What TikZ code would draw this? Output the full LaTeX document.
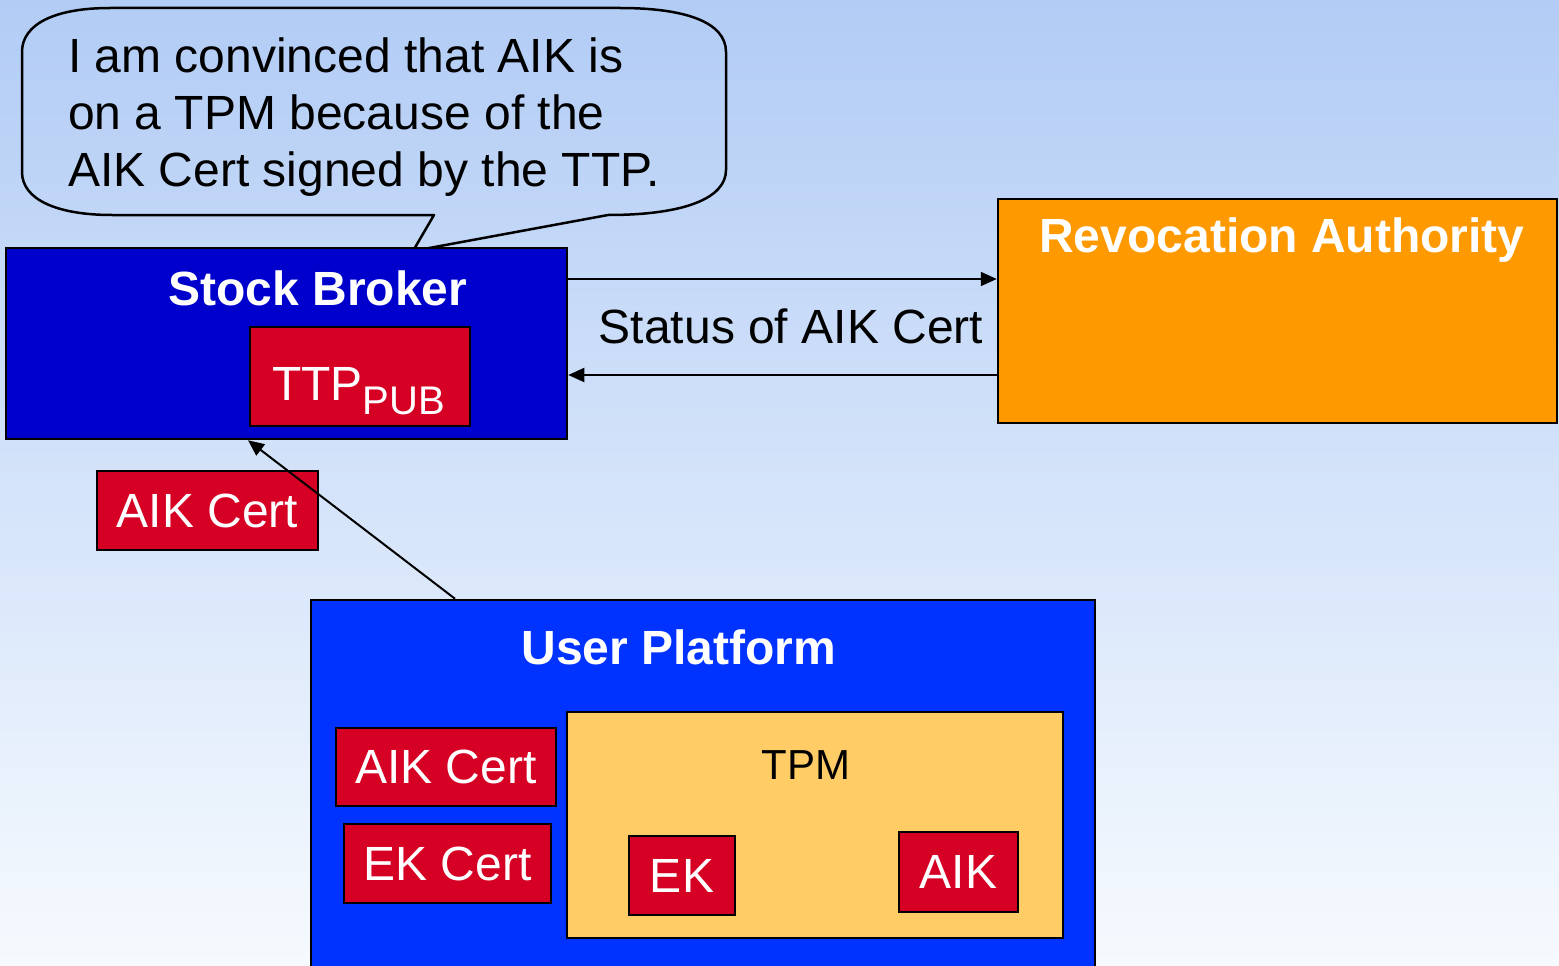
\documentclass[tikz,border=0pt]{standalone}
\usepackage{fontspec}
\setmainfont{Liberation Sans}
\usetikzlibrary{arrows.meta}

\definecolor{brokerblue}{HTML}{0000CC}
\definecolor{userblue}{HTML}{0033FF}
\definecolor{revorange}{HTML}{FF9900}
\definecolor{keyred}{HTML}{D60024}
\definecolor{tpmyellow}{HTML}{FFCC66}
\definecolor{skytop}{RGB}{178,204,245}
\definecolor{skymid}{RGB}{210,226,250}
\definecolor{skybot}{RGB}{246,250,254}

\newcommand{\bigtext}{\fontsize{48}{57}\selectfont}

\tikzset{
  party/.style={draw=black, line width=2.5pt, inner sep=0pt},
  keybox/.style={party, fill=keyred, text=white, font=\bigtext},
  title/.style={text=white, font=\bigtext\bfseries, inner sep=0pt},
  msg/.style={line width=2pt, -{Triangle[length=16pt,width=14pt]}},
}

\begin{document}
\begin{tikzpicture}[x=1pt, y=-1pt]
  \clip (0,0) rectangle (1559,966);
  \fill[top color=skytop, middle color=skymid, bottom color=skybot] (0,0) rectangle (1559,966);

  % speech bubble
  \draw[line width=2.5pt, line join=round]
    (434,215) -- (413,251) -- (608,215)
    .. controls (685,215) and (726,198) .. (726,170) -- (726,52)
    .. controls (726,22) and (685,8) .. (620,8) -- (110,8)
    .. controls (55,8) and (22,24) .. (22,52) -- (22,172)
    .. controls (22,200) and (58,215) .. (112,215) -- cycle;
  \node[font=\bigtext, align=left, anchor=north west, inner sep=0pt] (thought) at (68,38)
    {I am convinced that AIK is\\on a TPM because of the\\AIK Cert signed by the TTP.};

  % stock broker
  \node[party, fill=brokerblue, minimum width=561pt, minimum height=191pt] (broker) at (286.5,343.5) {};
  \node[title, anchor=base] (brokertitle) at (318,305) {Stock Broker};
  \node[keybox, minimum width=220pt, minimum height=99pt] (ttp) at (360,376.5) {};
  \node[text=white, font=\bigtext, anchor=base west, inner sep=0pt] (ttplabel) at (272,400)
    {TTP\raisebox{-14pt}{\fontsize{40}{40}\selectfont PUB}};

  % revocation authority
  \node[party, fill=revorange, minimum width=559pt, minimum height=224pt] (revoc) at (1277.5,311) {};
  \node[title, anchor=base] (revoctitle) at (1282,252) {Revocation Authority};

  \coordinate (query) at ([yshift=64.5pt]broker.east);
  \coordinate (reply) at ([yshift=-31.5pt]broker.east);
  \draw[msg] (query) -- (query -| revoc.west);
  \draw[msg] (reply -| revoc.west) -- (reply);
  \node[font=\bigtext, anchor=base, inner sep=0pt] (status) at (791,343) {Status of AIK Cert};

  % certificate on its way
  \node[keybox, minimum width=221pt, minimum height=79pt] (sentcert) at (207.5,510.5) {AIK Cert};

  % user platform
  \node[party, fill=userblue, minimum width=784pt, minimum height=380pt] (user) at (703,790) {};
  \node[title, anchor=base] (usertitle) at (679,664) {User Platform};
  \node[party, fill=tpmyellow, minimum width=496pt, minimum height=226pt] (tpm) at (815,825) {};
  \node[font=\fontsize{42}{50}\selectfont, anchor=base, inner sep=0pt] (tpmtitle) at (806,779) {TPM};
  \node[keybox, minimum width=220pt, minimum height=78pt] (aikcert) at (446,767) {AIK Cert};
  \node[keybox, minimum width=207pt, minimum height=79pt] (ekcert) at (447.5,863.5) {EK Cert};
  \node[keybox, minimum width=106pt, minimum height=79pt] (ek) at (682,875.5) {EK};
  \node[keybox, minimum width=119pt, minimum height=80pt] (aik) at (958.5,872) {AIK};

  \draw[msg] ([xshift=-248pt]user.north) -- ([xshift=-38.5pt]broker.south);
\end{tikzpicture}
\end{document}
